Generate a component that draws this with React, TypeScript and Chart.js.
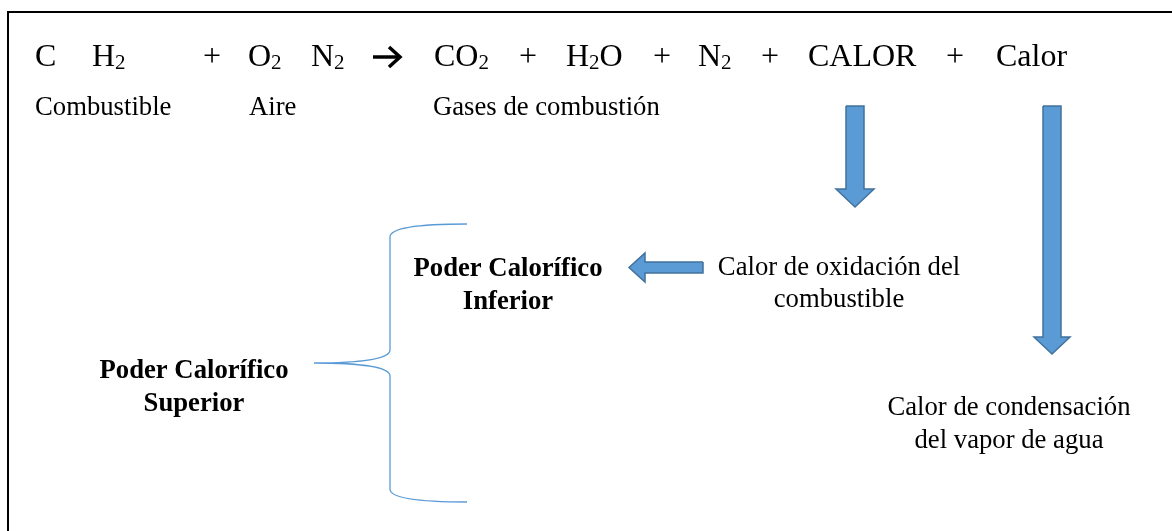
import { useEffect, useRef } from "react";
import { Chart, registerables } from "chart.js";

Chart.register(...registerables);

const W = 1172;
const H = 531;

// ---- text content ----
const equationTokens = ["C", "H_2", "+", "O_2", "N_2", "CO_2", "+", "H_2O", "+", "N_2", "+", "CALOR", "+", "Calor"];
const equationX = [35, 92, 203, 248, 311, 434, 519, 566, 653, 698, 761, 808, 946, 996];
const equationY = 66;

const groupLabels = ["Combustible", "Aire", "Gases de combustión"];
const groupX = [35, 249, 433];
const groupY = 115;

const noteLines = [
  ["Poder Calorífico", "Inferior"],
  ["Calor de oxidación del", "combustible"],
  ["Poder Calorífico", "Superior"],
  ["Calor de condensación", "del vapor de agua"],
];
const noteBold = [true, false, true, false];
const noteX = [508, 839, 194, 1009];
const noteY = [276, 275, 378, 415];
const noteGap = [33, 32, 33, 33];

// ---- shapes (in diagram units) ----
const frameX = [8, 8, W];
const frameY = [H, 12, 12];

const reactionShaftX = [373, 398];
const reactionShaftY = [57, 57];
const reactionHeadX = [389, 400, 389];
const reactionHeadY = [47, 57, 67];

const arrowOxX = [846, 864, 864, 874, 855, 836, 846, 846];
const arrowOxY = [106, 106, 189, 189, 207, 189, 189, 106];
const arrowCondX = [1043, 1061, 1061, 1070, 1052, 1034, 1043, 1043];
const arrowCondY = [106, 106, 337, 337, 354, 337, 337, 106];
const arrowLeftX = [703, 703, 645, 645, 629, 645, 645, 703];
const arrowLeftY = [262, 273, 273, 282, 267.5, 253, 262, 262];

const braceEndX = 467;
const braceSpineX = 390;
const braceTipX = 314;
const braceTop = 224;
const braceMid = 363;
const braceBottom = 502;

const pts = (xs: number[], ys: number[]) => xs.map((x, i) => ({ x, y: ys[i] }));

const ARROW_FILL = "#5B9BD5";
const ARROW_EDGE = "#41719C";

function drawTokens(ctx: CanvasRenderingContext2D, tok: string, x: number, y: number, sx: any, sy: any) {
  const parts = tok.split(/_(\d)/);
  let px = sx.getPixelForValue(x);
  const py = sy.getPixelForValue(y);
  parts.forEach((p, i) => {
    if (!p) return;
    const sub = i % 2 === 1;
    ctx.font = sub ? "21px 'Liberation Serif'" : "32px 'Liberation Serif'";
    ctx.fillText(p, px, py + (sub ? 3 : 0));
    px += ctx.measureText(p).width;
  });
}

const diagramPlugin = {
  id: "diagram",
  afterDatasetsDraw(chart: any) {
    const ctx: CanvasRenderingContext2D = chart.ctx;
    const sx = chart.scales.x;
    const sy = chart.scales.y;
    const X = (v: number) => sx.getPixelForValue(v);
    const Y = (v: number) => sy.getPixelForValue(v);
    ctx.save();
    // brace
    ctx.strokeStyle = ARROW_FILL;
    ctx.lineWidth = 1.3;
    ctx.beginPath();
    ctx.moveTo(X(braceEndX), Y(braceTop));
    ctx.bezierCurveTo(X(420), Y(braceTop), X(braceSpineX), Y(braceTop + 4), X(braceSpineX), Y(braceTop + 13));
    ctx.lineTo(X(braceSpineX), Y(braceMid - 13));
    ctx.bezierCurveTo(X(braceSpineX), Y(braceMid - 4), X(360), Y(braceMid), X(braceTipX), Y(braceMid));
    ctx.moveTo(X(braceTipX), Y(braceMid));
    ctx.bezierCurveTo(X(360), Y(braceMid), X(braceSpineX), Y(braceMid + 4), X(braceSpineX), Y(braceMid + 13));
    ctx.lineTo(X(braceSpineX), Y(braceBottom - 13));
    ctx.bezierCurveTo(X(braceSpineX), Y(braceBottom - 4), X(420), Y(braceBottom), X(braceEndX), Y(braceBottom));
    ctx.stroke();

    // texts
    ctx.fillStyle = "#000";
    ctx.textBaseline = "alphabetic";
    ctx.textAlign = "left";
    equationTokens.forEach((t, i) => drawTokens(ctx, t, equationX[i], equationY, sx, sy));
    ctx.font = "26.7px 'Liberation Serif'";
    groupLabels.forEach((t, i) => ctx.fillText(t, X(groupX[i]), Y(groupY)));
    ctx.textAlign = "center";
    noteLines.forEach((lines, i) => {
      ctx.font = (noteBold[i] ? "bold " : "") + "26.7px 'Liberation Serif'";
      lines.forEach((l, j) => ctx.fillText(l, X(noteX[i]), Y(noteY[i] + j * noteGap[i])));
    });
    ctx.restore();
  },
};

export default function App() {
  const ref = useRef<HTMLCanvasElement>(null);
  useEffect(() => {
    if (!ref.current) return;
    const arrowDs = (xs: number[], ys: number[]) => ({
      data: pts(xs, ys),
      borderColor: ARROW_EDGE,
      backgroundColor: ARROW_FILL,
      borderWidth: 1.5,
      fill: "shape" as any,
      pointRadius: 0,
      tension: 0,
      borderJoinStyle: "miter" as any,
    });
    const chart = new Chart(ref.current, {
      type: "line",
      data: {
        datasets: [
          { data: pts(frameX, frameY), borderColor: "#000", borderWidth: 2, pointRadius: 0, fill: false, borderJoinStyle: "miter" as any },
          { data: pts(reactionShaftX, reactionShaftY), borderColor: "#000", borderWidth: 3.5, pointRadius: 0, fill: false },
          { data: pts(reactionHeadX, reactionHeadY), borderColor: "#000", borderWidth: 3.5, pointRadius: 0, fill: false, borderJoinStyle: "miter" as any },
          arrowDs(arrowOxX, arrowOxY),
          arrowDs(arrowCondX, arrowCondY),
          arrowDs(arrowLeftX, arrowLeftY),
        ] as any,
      },
      options: {
        animation: false,
        responsive: false,
        layout: { padding: 0 },
        plugins: { legend: { display: false }, tooltip: { enabled: false } },
        events: [],
        scales: {
          x: { type: "linear", min: 0, max: W, display: false },
          y: { type: "linear", min: 0, max: H, reverse: true, display: false },
        },
      },
      plugins: [diagramPlugin],
    });
    return () => chart.destroy();
  }, []);
  return (
    <div style={{ position: "fixed", left: 0, top: 0, width: W, height: H, background: "#fff" }}>
      <canvas ref={ref} width={W} height={H} style={{ display: "block" }} />
    </div>
  );
}
